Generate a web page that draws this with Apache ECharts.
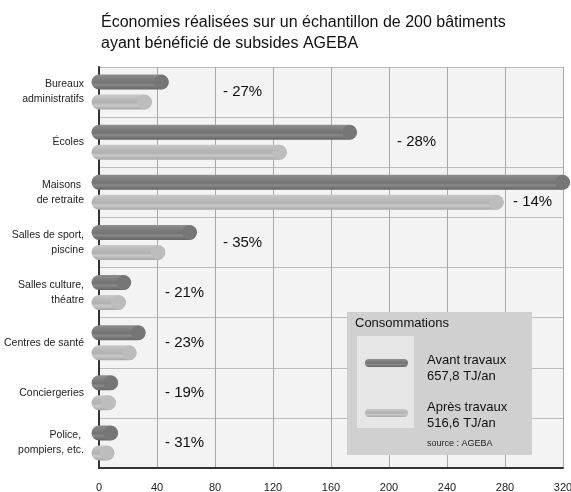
<!DOCTYPE html>
<html><head><meta charset="utf-8">
<script src="https://cdn.jsdelivr.net/npm/echarts@6/dist/echarts.min.js"></script>
<style>html,body{margin:0;padding:0;background:#fff}#c{width:571px;height:492px}</style>
</head><body><div id="c"></div>
<script>
const categories = ['Bureaux\nadministratifs', 'Écoles', 'Maisons \nde retraite', 'Salles de sport,\npiscine', 'Salles culture,\nthéatre', 'Centres de santé', 'Conciergeries', 'Police, \npompiers, etc.'];
const avant = [43, 172.8, 319.7, 62.4, 17, 27, 8, 8];
const apres = [31.4, 124.5, 274, 40.6, 13.4, 20.8, 6.5, 5.5];
const reductions = ['- 27%', '- 28%', '- 14%', '- 35%', '- 21%', '- 23%', '- 19%', '- 31%'];
const xMax = 320, xStep = 40;
const titleText = 'Économies réalisées sur un échantillon de 200 bâtiments\nayant bénéficié de subsides AGEBA';
const legendTitle = 'Consommations';
const legendAvant = ['Avant travaux', '657,8 TJ/an'];
const legendApres = ['Après travaux', '516,6 TJ/an'];
const sourceText = 'source : AGEBA';

const FONT = 'Liberation Sans, Arial, Helvetica, sans-serif';
const G = echarts.graphic;
const darkGrad = () => new G.LinearGradient(0, 0, 0, 1, [
  {offset: 0, color: '#8f8f8f'}, {offset: 0.3, color: '#7e7e7e'}, {offset: 0.55, color: '#737373'},
  {offset: 0.7, color: '#8a8a8a'}, {offset: 0.82, color: '#777'}, {offset: 1, color: '#656565'}]);
const lightGrad = () => new G.LinearGradient(0, 0, 0, 1, [
  {offset: 0, color: '#cacaca'}, {offset: 0.3, color: '#bababa'}, {offset: 0.55, color: '#b1b1b1'},
  {offset: 0.72, color: '#c9c9c9'}, {offset: 0.85, color: '#b8b8b8'}, {offset: 1, color: '#a6a6a6'}]);

function barRenderer(offset, gradFn, capColor) {
  return function (params, api) {
    const v = api.value(0), cat = api.value(1);
    const p0 = api.coord([0, cat]);
    const p1 = api.coord([v, cat]);
    const h = 15, r = 7.5;
    const cy = p0[1] + offset;
    return {type: 'group', children: [
      {type: 'rect', shape: {x: p0[0] - r, y: cy - h / 2, width: p1[0] - p0[0] + 2 * r, height: h, r: r},
        style: {fill: gradFn()}},
      {type: 'circle', shape: {cx: p1[0], cy: cy, r: r - 0.3}, style: {fill: capColor}}
    ]};
  };
}

const labelData = reductions.map((t, i) => {
  const useLight = avant[i] >= xMax - 20;
  const ref = useLight ? apres[i] : avant[i];
  return [Math.ceil(ref / xStep) * xStep, i, useLight ? 1 : 0];
});

const chart = echarts.init(document.getElementById('c'), null, {renderer: 'canvas'});
chart.setOption({
  animation: false,
  backgroundColor: '#fff',
  title: {text: titleText, left: 96, top: 7,
    textStyle: {fontSize: 16, fontWeight: 'normal', color: '#111', lineHeight: 21, fontFamily: FONT}},
  grid: {left: 99, right: 8, top: 67, bottom: 24, show: true, backgroundColor: '#f3f3f3', borderWidth: 0,
    containLabel: false, outerBoundsMode: 'none'},
  xAxis: {type: 'value', min: 0, max: xMax, interval: xStep,
    axisLine: {show: true, onZero: false, lineStyle: {color: '#333', width: 2}},
    axisTick: {show: false},
    splitLine: {show: true, lineStyle: {color: '#a9a9a9', width: 1}},
    axisLabel: {fontSize: 11, color: '#222', margin: 14, fontFamily: FONT}},
  yAxis: {type: 'category', data: categories, inverse: true,
    axisLine: {show: true, lineStyle: {color: '#333', width: 2}},
    axisTick: {show: false},
    splitLine: {show: true, lineStyle: {color: '#bcbcbc', width: 1}},
    axisLabel: {fontSize: 10.5, lineHeight: 15, color: '#222', margin: 15, fontFamily: FONT, align: 'right'}},
  series: [
    {type: 'custom', name: 'Avant travaux', clip: false, encode: {x: 0, y: 1},
      data: avant.map((v, i) => [v, i]), renderItem: barRenderer(-10, darkGrad, '#767676'), z: 3},
    {type: 'custom', name: 'Après travaux', clip: false, encode: {x: 0, y: 1},
      data: apres.map((v, i) => [v, i]), renderItem: barRenderer(10, lightGrad, '#bdbdbd'), z: 3},
    {type: 'custom', name: 'labels', clip: false, encode: {x: 0, y: 1},
      data: labelData,
      renderItem: function (params, api) {
        const p = api.coord([api.value(0), api.value(1)]);
        const dy = api.value(2) ? 10 : 0;
        return {type: 'text', x: p[0] + 8, y: p[1] + dy,
          style: {text: reductions[params.dataIndex], fontSize: 15, fill: '#111', fontFamily: FONT,
            textVerticalAlign: 'middle', verticalAlign: 'middle', align: 'left'}};
      }, z: 4}
  ],
  graphic: [
    {type: 'rect', left: 347, top: 312, z: 10, shape: {width: 185, height: 143}, style: {fill: '#d0d0d0'}},
    {type: 'rect', left: 357, top: 336, z: 11, shape: {width: 57, height: 92}, style: {fill: '#e6e6e6'}},
    {type: 'rect', left: 365, top: 359, z: 12, shape: {width: 43, height: 8, r: 4}, style: {fill: darkGrad()}},
    {type: 'rect', left: 365, top: 409, z: 12, shape: {width: 43, height: 8, r: 4}, style: {fill: lightGrad()}},
    {type: 'text', left: 355, top: 317, z: 12, style: {text: legendTitle, fontSize: 13, fill: '#111', fontFamily: FONT}},
    {type: 'text', left: 427, top: 352, z: 12, style: {text: legendAvant.join('\n'), fontSize: 13, lineHeight: 16, fill: '#111', fontFamily: FONT}},
    {type: 'text', left: 427, top: 399, z: 12, style: {text: legendApres.join('\n'), fontSize: 13, lineHeight: 16, fill: '#111', fontFamily: FONT}},
    {type: 'text', left: 427, top: 439, z: 12, style: {text: sourceText, fontSize: 9, fill: '#222', fontFamily: FONT}}
  ]
});
</script></body></html>
